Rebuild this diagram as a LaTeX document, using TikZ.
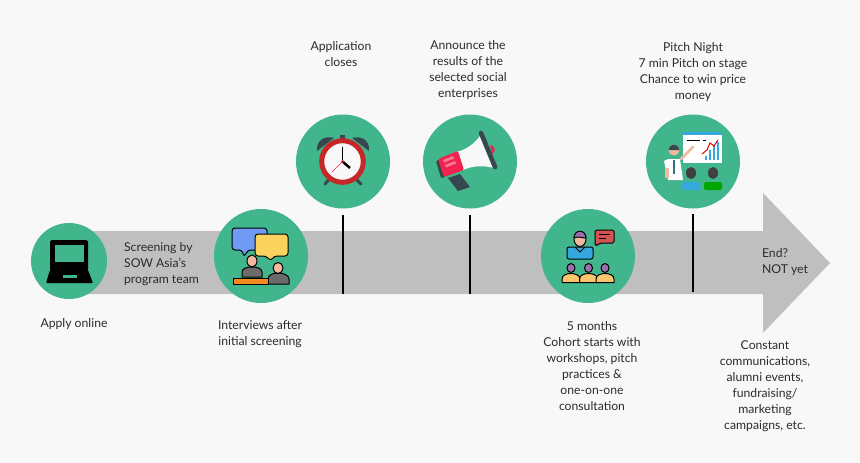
\documentclass[tikz,border=0pt]{standalone}
\usepackage{fontspec}
\setmainfont{Lato}
\definecolor{bgc}{HTML}{F8F8F8}
\definecolor{greenc}{HTML}{41B58B}
\definecolor{grayc}{HTML}{BFBFBF}
\definecolor{textc}{HTML}{2B2B2B}
\definecolor{darkc}{HTML}{37474F}
\definecolor{redc}{HTML}{C62828}
\definecolor{pinkc}{HTML}{F4224E}
\definecolor{skinc}{HTML}{F2B8A0}
\definecolor{bluec}{HTML}{6F9BF5}
\definecolor{yelc}{HTML}{FCD25F}
\definecolor{orgc}{HTML}{F58A1F}
\definecolor{persc}{HTML}{6B6B6B}
\definecolor{skyc}{HTML}{35A8E0}
\definecolor{purpc}{HTML}{9B6FB0}
\definecolor{sandc}{HTML}{FBC56D}
\tikzset{
  step circle/.style={circle,fill=greenc,draw=none,minimum size=94pt,inner sep=0pt},
  label text/.style={text=textc,align=center,inner sep=0pt,font=\fontsize{12.2}{16}\selectfont},
  tick line/.style={black,line width=1.3pt},
  icon/.style={draw=black,line width=1pt,line join=round}
}
\begin{document}
\begin{tikzpicture}[x=1pt,y=-1pt]
\fill[bgc] (0,0) rectangle (860,463);
\useasboundingbox (0,0) rectangle (860,463);
% arrow
\fill[grayc] (68,231) -- (763,231) -- (763,193) -- (830,263) -- (763,333) -- (763,294) -- (68,294) -- cycle;
% ticks
\coordinate (t1a) at (343,215); \coordinate (t1b) at (343,294);
\coordinate (t2a) at (470,215); \coordinate (t2b) at (470,294);
\coordinate (t3a) at (693,214); \coordinate (t3b) at (693,292);
\draw[tick line] (t1a) -- (t1b);
\draw[tick line] (t2a) -- (t2b);
\draw[tick line] (t3a) -- (t3b);
% circles
\node[step circle,minimum size=76pt] (laptop) at (69,261) {};
\node[step circle] (interview) at (261,256) {};
\node[step circle] (clock) at (343,161.5) {};
\node[step circle] (mega) at (470,161.5) {};
\node[step circle] (cohort) at (588,256) {};
\node[step circle] (pitch) at (693,161.5) {};
% laptop icon
\fill[black,rounded corners=1.5pt] (50,240) rectangle (88,271);
\fill[greenc] (55,245) rectangle (84,262);
\fill[black,rounded corners=1pt] (50,270) -- (88,270) -- (93,283) -- (46,283) -- cycle;
\fill[greenc] (63,275) rectangle (77,278);
% interview icon
\draw[icon,fill=bluec,rounded corners=3pt] (232,228) -- (267,228) -- (267,250) -- (248,250) -- (244,257) -- (242,250) -- (232,250) -- cycle;
\draw[icon,fill=yelc,rounded corners=3pt] (255,234) -- (288,234) -- (288,256) -- (274,256) -- (271,261) -- (266,256) -- (255,256) -- cycle;
\draw[icon,fill=persc] (242,277) -- (242,272) .. controls (242,268) and (248,267) .. (252,267) .. controls (256,267) and (262,268) .. (262,272) -- (262,277) -- cycle;
\draw[icon,fill=skinc] (252,261) ellipse [x radius=5,y radius=6];
\draw[icon,fill=persc] (268,284) -- (268,279) .. controls (268,275) and (273,273) .. (278,273) .. controls (283,273) and (289,275) .. (289,279) -- (289,284) -- cycle;
\draw[icon,fill=skinc] (278,268) ellipse [x radius=5,y radius=5.5];
\draw[icon,fill=orgc] (233,278) rectangle (268,284);
% clock icon
\fill[darkc] (317,151) .. controls (316,141) and (324,135) .. (334,138) -- cycle;
\fill[darkc] (369,151) .. controls (370,141) and (362,135) .. (352,138) -- cycle;
\fill[darkc] (340,134.5) rectangle (345,139);
\draw[darkc,line width=3pt,line cap=round] (333,175) -- (325,184);
\draw[darkc,line width=3pt,line cap=round] (352,175) -- (361,184);
\draw[redc,fill=bgc,line width=5pt] (342.5,161.5) circle [radius=20.8];
\draw[pinkc,line width=.6pt] (342.5,161.5) -- (332,172);
\draw[black,line width=1.4pt] (342.5,161.5) -- (342.5,147);
\draw[black,line width=2.4pt] (342.5,161.5) -- (350,168);
\fill[redc] (342.5,161.5) circle [radius=1.3];
% megaphone icon
\fill[darkc] (448,178) -- (460,174) -- (470,187) -- (458,191) -- cycle;
\fill[bgc] (480,136) -- (494,168) .. controls (483,165) and (472,166) .. (463,170) -- (456,152) .. controls (466,150) and (474,144) .. (480,136) -- cycle;
\fill[pinkc] (490,145) .. controls (496,146) and (496,152) .. (492,154) -- cycle;
\draw[darkc,line width=4.6pt,line cap=round] (481,133) -- (495,167);
\fill[darkc,rounded corners=1pt] (436,161) -- (441,178) -- (445,177) -- (441,159) -- cycle;
\fill[pinkc,rounded corners=1.5pt] (438,159) -- (458,151) -- (464,170) -- (444,177) -- cycle;
\fill[pinkc!60!white] (443,160) -- (453,156) -- (454,158.5) -- (444,162.5) -- cycle;
\fill[pinkc!60!white] (445,165) -- (455,161) -- (456,163.5) -- (446,167.5) -- cycle;
% cohort icon
\draw[icon,fill=skyc,rounded corners=2pt] (567,259) -- (567,247) -- (593,247) -- (593,259) -- cycle;
\draw[icon,fill=skinc] (580,239) ellipse [x radius=6,y radius=7.5];
\draw[icon,fill=purpc] (574,238) .. controls (574,229) and (586,229) .. (586,238) .. controls (582,238) and (578,236) .. (574,238) -- cycle;
\draw[black,line width=1pt] (575,247) -- (580,252) -- (585,247);
\draw[icon,fill=redc!80!white,rounded corners=1.5pt] (595,230) -- (614,230) -- (614,243) -- (601,243) -- (595,246) -- cycle;
\draw[black,line width=1pt] (599,234) -- (610,234) (599,238) -- (606,238);
\foreach \cx in {571,588.5,605}{
  \draw[icon,fill=sandc] (\cx-9,282.5) -- (\cx-9,279) .. controls (\cx-9,275) and (\cx-4,273.5) .. (\cx,273.5) .. controls (\cx+4,273.5) and (\cx+9,275) .. (\cx+9,279) -- (\cx+9,282.5) -- cycle;
  \draw[icon,fill=purpc] (\cx,268) ellipse [x radius=4,y radius=4.5];
}
% pitch icon
\fill[white] (683,132) rectangle (722,163);
\fill[skyc] (683,132) rectangle (722,135);
\draw[black,line width=1pt] (687,140) -- (700,140) (703,140) -- (706,140);
\foreach \bx/\by in {706/156,710/150,714/146,718/142}{
  \draw[skyc,line width=1.8pt] (\bx,\by) -- (\bx,160);
}
\draw[red!85!black,line width=1pt] (702,154) -- (707,150) -- (710,143) -- (714,146) -- (718,140);
\fill[white] (664,161) -- (668,159) -- (680,159) -- (683,180) -- (668,180) -- cycle;
\draw[skinc,line width=2.6pt,line cap=round] (681,159) -- (693,147);
\fill[skinc] (664.5,168) rectangle (669,178);
\draw[darkc!60!skyc,line width=1.5pt] (674,160) -- (674,174);
\fill[skinc] (674,150) circle [radius=5.5];
\fill[darkc] (668.5,150) arc[start angle=180,end angle=360,radius=5.5] -- cycle;
\fill[black!75] (691,173) ellipse [x radius=5,y radius=6];
\fill[black!75] (713,173) ellipse [x radius=5,y radius=6];
\fill[skyc,rounded corners=2pt] (682,190) -- (682,182) -- (700,182) -- (700,190) -- cycle;
\fill[green!65!black,rounded corners=2pt] (704,190) -- (704,182) -- (722,182) -- (722,190) -- cycle;
% labels
\node[label text] (l1) at (341,54.5) {Application\\closes};
\node[label text] (l2) at (468,70.5) {Announce the\\results of the\\selected social\\enterprises};
\node[label text] (l3) at (693,72.5) {Pitch Night\\7 min Pitch on stage\\Chance to win price\\money};
\node[label text] (l4) at (74,324) {Apply online};
\node[label text,align=left] (l5) at (161.5,264) {Screening by\\SOW Asia's\\program team};
\node[label text] (l6) at (260,334.5) {Interviews after\\initial screening};
\node[label text] (l7) at (592,366.5) {5 months\\Cohort starts with\\workshops, pitch\\practices \&\\one-on-one\\consultation};
\node[label text,align=left] (l8) at (785,262.5) {End?\\NOT yet};
\node[label text] (l9) at (765,386.5) {Constant\\communications,\\alumni events,\\fundraising/\\marketing\\campaigns, etc.};
\end{tikzpicture}
\end{document}
